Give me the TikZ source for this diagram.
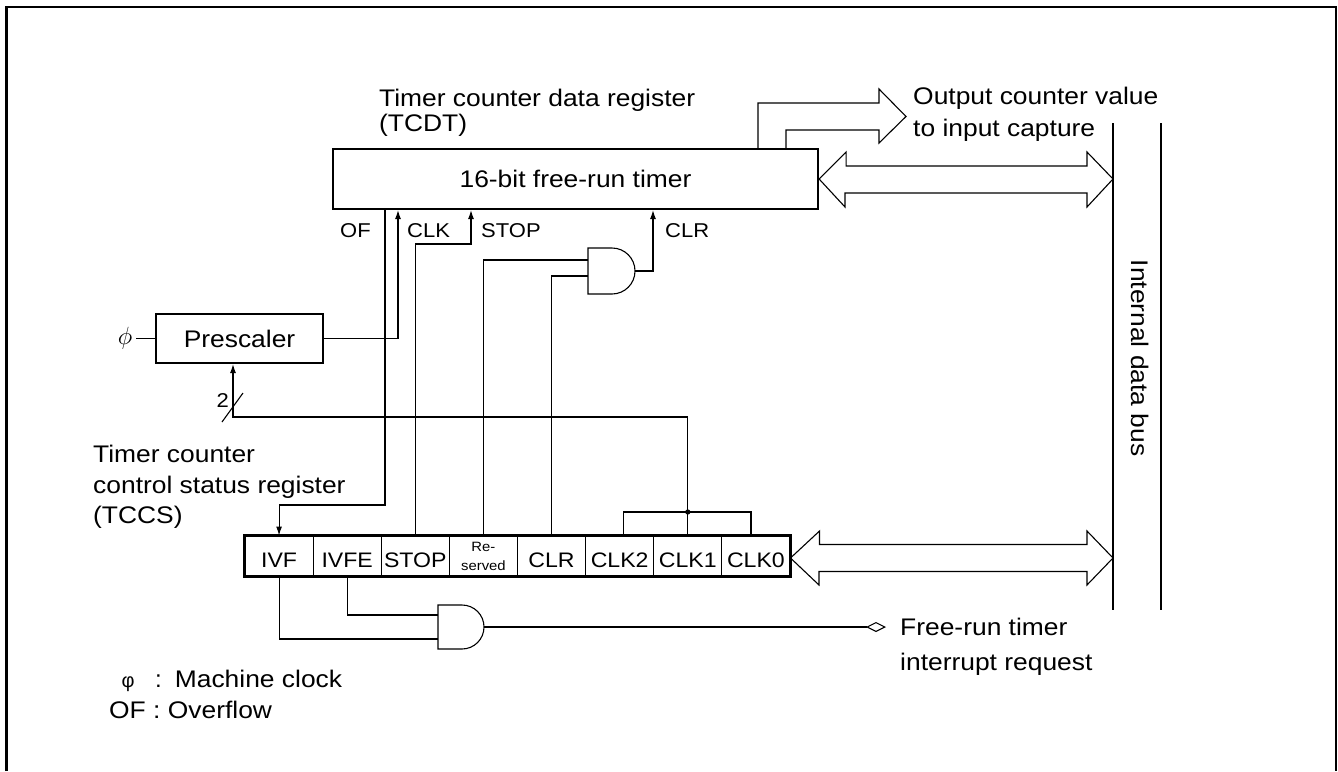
\documentclass[tikz,border=0pt]{standalone}
\usepackage{graphicx}
\usepackage{fontspec}
\setmainfont{Liberation Sans}
\usetikzlibrary{arrows.meta}
\newcommand\sx[1]{\scalebox{1.1}[1]{#1}}
\newcommand\fbig{\fontsize{24}{29}\selectfont}
\newcommand\flab{\fontsize{20}{24}\selectfont}
\newcommand\fcell{\fontsize{21}{25}\selectfont}
\newcommand\ftiny{\fontsize{13.5}{19}\selectfont}
\begin{document}
\begin{tikzpicture}[x=1pt,y=-1pt,
  wire/.style={line width=1.1pt},
  arr/.style={-{Latex[length=9pt,width=6pt]}},
  thickbox/.style={draw,line width=2.2pt,inner sep=0pt},
  cell/.style={draw,line width=1pt,minimum width=68.125pt,minimum height=40pt,inner sep=0pt,font=\fcell,text height=22pt,text depth=0pt},
  txt/.style={inner sep=0pt,font=\fbig},
  lab/.style={inner sep=0pt,font=\flab},
  hollow/.style={draw,line width=1.1pt,line join=miter},
  gate/.style={draw,line width=1.1pt},
]
\useasboundingbox (0,0) rectangle (1338,771);
\fill[white] (0,0) rectangle (1338,771);
\draw[line width=2.2pt] (6.5,771) -- (6.5,7) -- (1336,7) -- (1336,771);

% helper coordinates
\coordinate (xOF) at (385,0);
\coordinate (xCLK) at (398,0);
\coordinate (xSTb) at (471,0);
\coordinate (xCLRo) at (653,0);
\coordinate (xPre) at (233,0);
\coordinate (xO1) at (758,0);
\coordinate (xO2) at (786,0);
\coordinate (yST) at (0,244);
\coordinate (yCK) at (0,417);
\coordinate (ly) at (0,558);

% TCDT
\node[txt,anchor=base west] (tcdtl1) at (379,106) {\sx{Timer counter data register}};
\node[txt,anchor=base west] (tcdtl2) at (379,131) {\sx{(TCDT)}};
\node[thickbox,minimum width=485pt,minimum height=60pt,font=\fbig] (tcdt) at (575.5,179) {\sx{16-bit free-run timer}};

% output to input capture
\draw[hollow] (tcdt.north -| xO1) -- (758,103) -- (879,103) -- (879,89) -- (906,116.5) -- (879,143) -- (879,130) -- (786,130) -- (tcdt.north -| xO2);
\node[txt,anchor=base west] (ocv1) at (913,104) {\sx{Output counter value}};
\node[txt,anchor=base west] (ocv2) at (913,136) {\sx{to input capture}};

% internal data bus
\coordinate (busA1) at (1113,123);
\coordinate (busA2) at (1113,610);
\coordinate (busB1) at (1161,123);
\coordinate (busB2) at (1161,610);
\draw[line width=2.4pt] (busA1) -- (busA2);
\draw[line width=2.4pt] (busB1) -- (busB2);
\node[txt,rotate=-90] (busl) at (1140,358) {\sx{Internal data bus}};

% upper double arrow
\draw[hollow] (tcdt.east) -- ++(27,-27) -- ++(0,14) -- (1087,166) -- (1087,152) -- (busA1 |- tcdt.east) -- (1087,207) -- (1087,193) -- (845,193) -- (845,207) -- cycle;

% labels under TCDT
\node[lab,anchor=base west] (lOF) at (340,237) {\sx{OF}};
\node[lab,anchor=base west] (lCLK) at (407,237) {\sx{CLK}};
\node[lab,anchor=base west] (lSTOP) at (481,237) {\sx{STOP}};
\node[lab,anchor=base west] (lCLR) at (665,237) {\sx{CLR}};

% prescaler
\node[thickbox,minimum width=167pt,minimum height=49pt,font=\fbig] (pre) at (239.5,338.5) {\sx{Prescaler}};
\node[txt] (phi) at (125,338.5) {$\phi$};
\draw[wire] (pre.west) -- ([xshift=4pt]phi.east);

% TCCS label
\node[txt,anchor=base west] (tc1) at (93,462) {\sx{Timer counter}};
\node[txt,anchor=base west] (tc2) at (93,493) {\sx{control status register}};
\node[txt,anchor=base west] (tc3) at (93,523) {\sx{(TCCS)}};

% register cells
\node[cell] (c0) at (279.06,556) {\sx{IVF}};
\node[cell] (c1) at (347.19,556) {\sx{IVFE}};
\node[cell] (c2) at (415.31,556) {\sx{STOP}};
\node[cell,font=\ftiny,align=center,text height=,text depth=] (c3) at (483.44,556) {\sx{Re-}\\\sx{served}};
\node[cell] (c4) at (551.56,556) {\sx{CLR}};
\node[cell] (c5) at (619.69,556) {\sx{CLK2}};
\node[cell] (c6) at (687.81,556) {\sx{CLK1}};
\node[cell] (c7) at (755.94,556) {\sx{CLK0}};
\draw[line width=2.6pt] (c0.north west) rectangle (c7.south east);

% lower double arrow
\draw[hollow] (c7.east |- ly) -- ++(29,-27) -- ++(0,13.5) -- (1087,544.5) -- (1087,531) -- (busA1 |- ly) -- (1087,585) -- (1087,571.5) -- (819,571.5) -- (819,585) -- cycle;

% OF to IVF
\draw[wire,arr] (tcdt.south -| xOF) -- (385,505) -| (c0.north);
% CLK from prescaler
\draw[wire,arr] (pre.east) -| (tcdt.south -| xCLK);
% STOP
\draw[wire,arr] (c2.north) -- (c2.north |- yST) -| (tcdt.south -| xSTb);

% upper AND gate
\coordinate (g1a) at (588,260);
\coordinate (g1b) at (588,276);
\coordinate (g1o) at (635,271);
\draw[gate] (588,248) -- (612,248) arc[start angle=90,end angle=-90,radius=23pt] -- (588,294) -- cycle;
\draw[wire] (c3.north) |- (g1a);
\draw[wire] (c4.north) |- (g1b);
\draw[wire,arr] (g1o) -| (tcdt.south -| xCLRo);

% CLK select bits to prescaler
\coordinate (jn) at (687.81,512);
\coordinate (k2) at ([xshift=4pt]c5.north);
\coordinate (k0) at ([xshift=-5pt]c7.north);
\draw[wire] (k2) |- (k0 |- jn) -- (k0);
\draw[wire,arr] (c6.north) -- (jn) -- (c6.north |- yCK) -| (pre.south -| xPre);
\fill (jn) circle[radius=2.6pt];
\draw[wire] (222,422) -- (243,393);
\node[lab,anchor=base east] (two) at (229,407) {\sx{2}};

% lower AND gate
\coordinate (g2a) at (438,615);
\coordinate (g2b) at (438,639);
\coordinate (g2o) at (484,627);
\draw[gate] (438,605) -- (462,605) arc[start angle=90,end angle=-90,radius=22pt] -- (438,649) -- cycle;
\draw[wire] (c1.south) |- (g2a);
\draw[wire] (c0.south) |- (g2b);
\coordinate (irqend) at (886,627);
\draw[wire,-{Diamond[open,length=20pt,width=10pt]}] (g2o) -- (irqend);
\node[txt,anchor=base west] (irq1) at (900,635) {\sx{Free-run timer}};
\node[txt,anchor=base west] (irq2) at (900,670) {\sx{interrupt request}};

% legend
\node[txt,anchor=base west] (leg1) at (120,687) {\makebox[16pt][c]{\fontsize{20}{24}\selectfont φ}\hspace{19pt}:\hspace{13pt}\sx{Machine clock}};
\node[txt,anchor=base west] (leg2) at (109,718) {\sx{OF : Overflow}};
\end{tikzpicture}
\end{document}
